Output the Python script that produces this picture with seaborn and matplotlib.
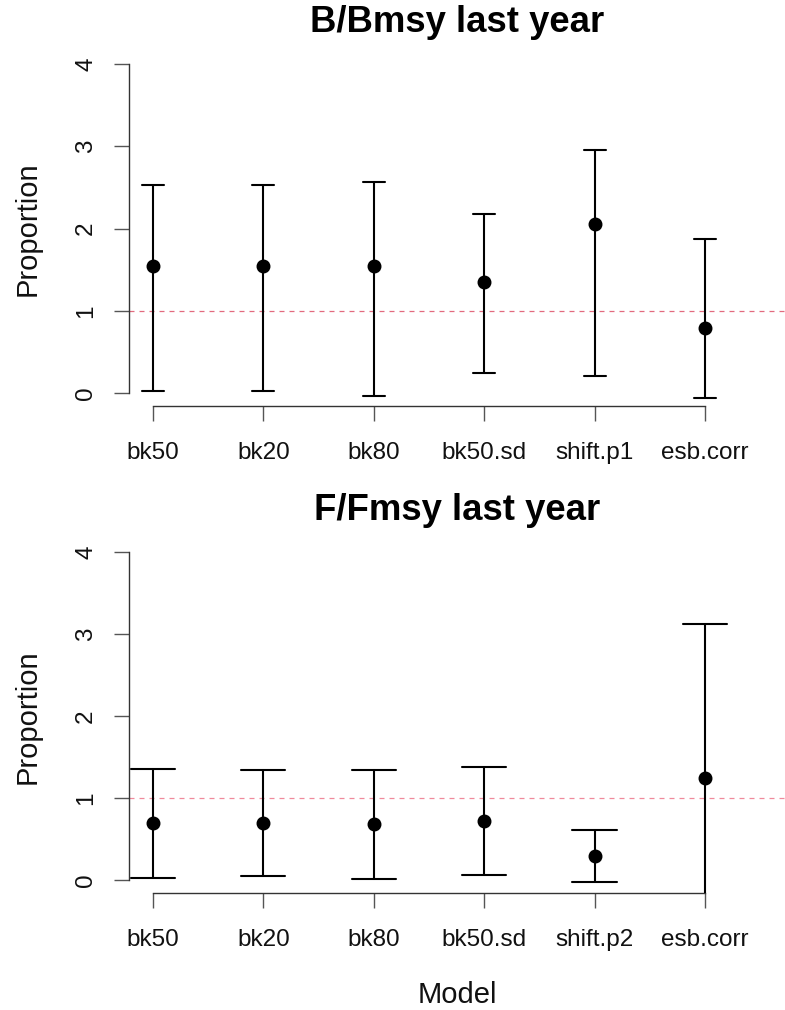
import matplotlib
matplotlib.use("Agg")
import matplotlib.pyplot as plt
import seaborn as sns
import pandas as pd

# ---- data ----
models_b = ["bk50", "bk20", "bk80", "bk50.sd", "shift.p1", "esb.corr"]
b_mid = [1.54, 1.54, 1.55, 1.35, 2.05, 0.79]
b_low = [0.03, 0.03, -0.03, 0.24, 0.21, -0.065]
b_high = [2.53, 2.53, 2.57, 2.18, 2.95, 1.87]

models_f = ["bk50", "bk20", "bk80", "bk50.sd", "shift.p2", "esb.corr"]
f_mid = [0.69, 0.69, 0.68, 0.72, 0.29, 1.24]
f_low = [0.03, 0.045, 0.016, 0.057, -0.03, -0.60]
f_high = [1.35, 1.34, 1.34, 1.38, 0.607, 3.13]

y_ticks = [0, 1, 2, 3, 4]


def long_df(models, low, mid, high):
    rows = []
    for m, lo, md, hi in zip(models, low, mid, high):
        for v in (lo, md, hi):
            rows.append({"Model": m, "value": v})
    return pd.DataFrame(rows)


sns.set_theme(style="white")
plt.rcParams["font.family"] = ["Liberation Sans", "DejaVu Sans"]

W, H = 785, 1010
fig = plt.figure(figsize=(W / 100, H / 100), dpi=100)

left_px = 129
ax1 = fig.add_axes([left_px / W, (H - 406.2) / H, (W - left_px) / W, 355.2 / H])
ax2 = fig.add_axes([left_px / W, (H - 893.1) / H, (W - left_px) / W, 353.8 / H])

panels = [
    (ax1, models_b, b_low, b_mid, b_high, "B/Bmsy last year", 0.2, "#E26A7E", (406.2 - 22) / 355.2),
    (ax2, models_f, f_low, f_mid, f_high, "F/Fmsy last year", 0.4, "#F08A9C", (893.1 - 511) / 353.8),
]

for ax, models, lo, md, hi, title, cap, lcol, ty in panels:
    df = long_df(models, lo, md, hi)
    ax.axhline(1, color=lcol, lw=0.9, ls=(0, (4, 4)), zorder=1)
    sns.pointplot(
        data=df, x="Model", y="value", order=models,
        estimator="median", errorbar=("pi", 100),
        color="black", linestyle="none", marker="o",
        capsize=cap, err_kws={"linewidth": 1.5, "color": "black"},
        markersize=8, ax=ax, zorder=3,
    )
    ax.set_xlim(-0.217, 5.725)
    ax.set_ylim(-0.16, 4.16)
    ax.set_yticks(y_ticks)
    ax.set_yticklabels([str(t) for t in y_ticks], rotation=90, va="center")
    for s in ("top", "right"):
        ax.spines[s].set_visible(False)
    for s in ("left", "bottom"):
        ax.spines[s].set_visible(True)
        ax.spines[s].set_color("#333333")
        ax.spines[s].set_linewidth(1.0)
    ax.spines["left"].set_bounds(0, 4)
    ax.spines["bottom"].set_bounds(0, 5)
    ax.tick_params(axis="both", direction="out", length=10.5, width=1.0,
                   color="#555555", labelsize=17.5, labelcolor="#111111",
                   bottom=True, left=True)
    ax.tick_params(axis="y", pad=12.5)
    ax.tick_params(axis="x", pad=15.5)
    ax.grid(False)
    ax.set_xlabel("")
    ax.set_ylabel("Proportion", fontsize=21, color="#111111", va="center")
    ax.yaxis.set_label_coords((28 - left_px) / (W - left_px), 0.5)
    ax.set_title(title, fontsize=26.3, fontweight="bold", y=ty, va="center",
                 color="black", pad=0)

ax2.set_xlabel("Model", fontsize=21, color="#111111", va="center")
ax2.xaxis.set_label_coords(0.5, (893.1 - 995) / 353.8)

fig.savefig("out.png", dpi=100, facecolor="white")
